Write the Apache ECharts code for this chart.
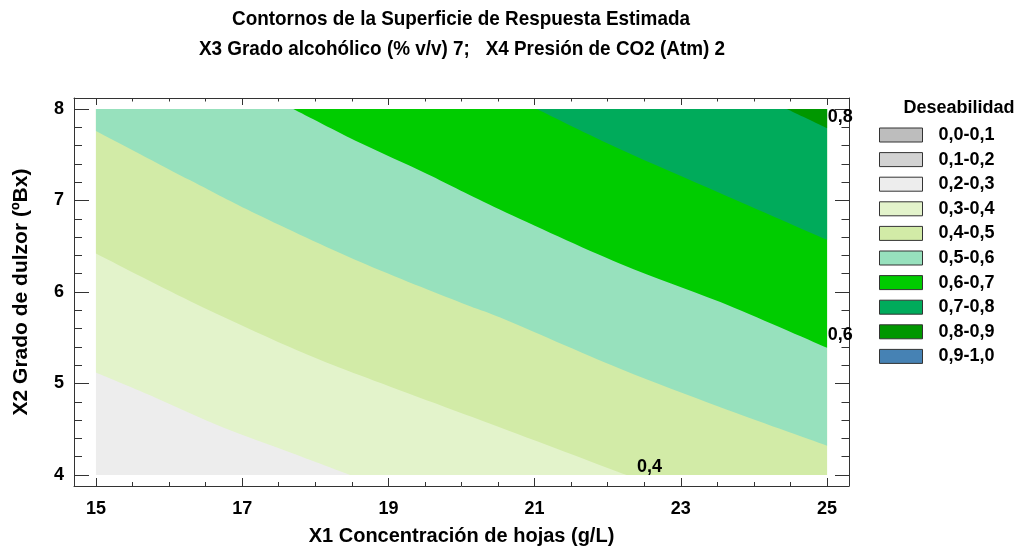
<!DOCTYPE html>
<html>
<head>
<meta charset="utf-8">
<script src="https://cdn.jsdelivr.net/npm/echarts@6/dist/echarts.min.js"></script>
<style>
  html, body { margin: 0; padding: 0; background: #fff; }
  #chart { width: 1025px; height: 551px; }
</style>
</head>
<body>
<div id="chart"></div>
<script>
// dominio experimental (X1 g/L, X2 ºBx)
const x1Range = [15, 25];
const x2Range = [4, 8];

// lineas de contorno, [X1, X2], de arriba-izquierda a abajo-derecha
const contour03 = [[15, 5.12], [15.83, 4.84], [16.74, 4.52], [17.65, 4.25], [18.48, 4.0]];
const contour04 = [[15, 6.42], [16.29, 5.90], [17.65, 5.40], [18.61, 5.09], [20.53, 4.52], [22.26, 4.0]];
const contour05 = [[15, 7.76], [16.29, 7.22], [17.20, 6.85], [18.61, 6.33], [20.0, 5.88], [20.53, 5.72], [22.17, 5.16], [23.54, 4.74], [25, 4.32]];
const contour06 = [[17.70, 8.0], [18.61, 7.63], [19.53, 7.29], [20.53, 6.90], [22.17, 6.31], [23.54, 5.89], [25, 5.39]];
const contour07 = [[21.03, 8.0], [22.17, 7.56], [23.54, 7.08], [25, 6.57]];
const contour08 = [[24.45, 8.0], [25, 7.79]];

// etiquetas de los contornos [X1, X2, texto]
const contourLabels = [[25.01, 7.91, '0,8'], [25.01, 5.53, '0,6'], [22.40, 4.09, '0,4']];

const bandNames = ['0,0-0,1', '0,1-0,2', '0,2-0,3', '0,3-0,4', '0,4-0,5',
  '0,5-0,6', '0,6-0,7', '0,7-0,8', '0,8-0,9', '0,9-1,0'];
// contorno inferior de cada banda ('full' = todo el dominio, null = no aparece)
const bandLower = [null, null, 'full', contour03, contour04, contour05, contour06, contour07, contour08, null];
const bandColors = ['#bdbdbd', '#d2d2d2', '#ededed', '#e3f3cb', '#d2eba7',
  '#97e1bd', '#00cc00', '#00ab5b', '#009700', '#4682b4'];

const xTicks = [15, 17, 19, 21, 23, 25];
const xMinorTicks = [15.5, 16, 16.5, 17.5, 18, 18.5, 19.5, 20, 20.5, 21.5, 22, 22.5, 23.5, 24, 24.5];
const yTicks = [4, 5, 6, 7, 8];
const yMinorTicks = [4.2, 4.4, 4.6, 4.8, 5.2, 5.4, 5.6, 5.8, 6.2, 6.4, 6.6, 6.8, 7.2, 7.4, 7.6, 7.8];

const FONT = '"Liberation Sans", Arial, sans-serif';
const frameColor = '#333';

// curva suave (catmull-rom -> bezier) por los puntos del contorno, en pixeles
function smoothPath(px) {
  let d = 'M' + px[0][0] + ' ' + px[0][1];
  for (let i = 0; i < px.length - 1; i++) {
    const p0 = px[Math.max(i - 1, 0)], p1 = px[i], p2 = px[i + 1], p3 = px[Math.min(i + 2, px.length - 1)];
    const c1 = [p1[0] + (p2[0] - p0[0]) / 6, p1[1] + (p2[1] - p0[1]) / 6];
    const c2 = [p2[0] - (p3[0] - p1[0]) / 6, p2[1] - (p3[1] - p1[1]) / 6];
    d += 'C' + c1[0] + ' ' + c1[1] + ' ' + c2[0] + ' ' + c2[1] + ' ' + p2[0] + ' ' + p2[1];
  }
  return d;
}

// region por encima de un contorno, cerrada por los bordes del dominio
function bandPath(lower, api) {
  const corners = [];
  let line;
  if (lower === 'full') {
    line = [[x1Range[0], x2Range[0]], [x1Range[1], x2Range[0]]];
    corners.push([x1Range[1], x2Range[1]], [x1Range[0], x2Range[1]]);
  } else {
    line = lower;
    const first = lower[0];
    const last = lower[lower.length - 1];
    if (last[1] === x2Range[0]) corners.push([x1Range[1], x2Range[0]]);
    corners.push([x1Range[1], x2Range[1]]);
    if (first[0] === x1Range[0]) corners.push([x1Range[0], x2Range[1]]);
  }
  let d = smoothPath(line.map(p => api.coord(p)));
  corners.forEach(p => {
    const c = api.coord(p);
    d += 'L' + c[0] + ' ' + c[1];
  });
  return d + 'Z';
}

const bandSeries = bandNames.map((name, i) => {
  const lower = bandLower[i];
  return {
    name: name,
    type: 'custom',
    coordinateSystem: 'cartesian2d',
    silent: true,
    z: 1,
    itemStyle: { color: bandColors[i] },
    data: lower ? [[x1Range[0], x2Range[0]]] : [],
    renderItem: (params, api) => ({
      type: 'path',
      shape: { pathData: bandPath(lower, api) },
      style: { fill: bandColors[i], stroke: null },
      z2: i
    })
  };
});

function xAxisDef(position, ticks, len, main) {
  return {
    type: 'value', min: 14.7, max: 25.3, position: position,
    axisLine: { show: main, lineStyle: { color: frameColor, width: 1 } },
    axisTick: { show: true, inside: true, length: len, customValues: ticks,
      lineStyle: { color: frameColor, width: 1 } },
    axisLabel: position === 'bottom' && main
      ? { show: true, customValues: xTicks, margin: 14, color: '#000',
          fontFamily: FONT, fontWeight: 'bold', fontSize: 18 }
      : { show: false },
    splitLine: { show: false },
    name: position === 'bottom' && main ? 'X1 Concentración de hojas (g/L)' : '',
    nameLocation: 'middle', nameGap: 40,
    nameTextStyle: { color: '#000', fontFamily: FONT, fontWeight: 'bold', fontSize: 20 }
  };
}

function yAxisDef(position, ticks, len, main) {
  return {
    type: 'value', min: 3.88, max: 8.12, position: position,
    axisLine: { show: main, lineStyle: { color: frameColor, width: 1 } },
    axisTick: { show: true, inside: true, length: len, customValues: ticks,
      lineStyle: { color: frameColor, width: 1 } },
    axisLabel: position === 'left' && main
      ? { show: true, customValues: yTicks, margin: 10, color: '#000',
          fontFamily: FONT, fontWeight: 'bold', fontSize: 18 }
      : { show: false },
    splitLine: { show: false },
    name: position === 'left' && main ? 'X2 Grado de dulzor (ºBx)' : '',
    nameLocation: 'middle', nameGap: 42,
    nameTextStyle: { color: '#000', fontFamily: FONT, fontWeight: 'bold', fontSize: 21 }
  };
}

const chart = echarts.init(document.getElementById('chart'));
chart.setOption({
  animation: false,
  backgroundColor: '#fff',
  grid: { left: 74, top: 98, width: 775, height: 395 },
  graphic: [
    { type: 'text', x: 461, y: 19.5, scaleX: 0.9, silent: true,
      style: { text: 'Contornos de la Superficie de Respuesta Estimada', fill: '#000',
        font: 'bold 21px ' + FONT, align: 'center', verticalAlign: 'middle' } },
    { type: 'text', x: 462, y: 49, scaleX: 0.9, silent: true,
      style: { text: 'X3 Grado alcohólico (% v/v) 7;   X4 Presión de CO2 (Atm) 2', fill: '#000',
        font: 'bold 21px ' + FONT, align: 'center', verticalAlign: 'middle' } },
    { type: 'text', x: 959, y: 108, silent: true,
      style: { text: 'Deseabilidad', fill: '#000',
        font: 'bold 18px ' + FONT, align: 'center', verticalAlign: 'middle' } }
  ],
  legend: {
    orient: 'vertical', left: 879, top: 126, padding: 0,
    itemWidth: 43, itemHeight: 14, itemGap: 6.6,
    icon: 'rect', selectedMode: false,
    data: bandNames,
    itemStyle: { borderColor: frameColor, borderWidth: 1 },
    textStyle: { color: '#000', fontFamily: FONT, fontWeight: 'bold', fontSize: 18,
      lineHeight: 18, padding: [0, 0, 0, 11] }
  },
  xAxis: [
    xAxisDef('bottom', xTicks, 8, true),
    xAxisDef('bottom', xMinorTicks, 4, false),
    xAxisDef('top', xTicks, 7, true),
    xAxisDef('top', xMinorTicks, 3.5, false)
  ],
  yAxis: [
    yAxisDef('left', yTicks, 15, true),
    yAxisDef('left', yMinorTicks, 8, false),
    yAxisDef('right', yTicks, 14, true),
    yAxisDef('right', yMinorTicks, 7.5, false)
  ],
  series: bandSeries.concat([{
    type: 'scatter',
    silent: true,
    symbolSize: 0,
    z: 5,
    itemStyle: { opacity: 1 },
    data: contourLabels,
    label: {
      show: true, position: [0, 0], align: 'left', verticalAlign: 'middle',
      formatter: p => p.data[2],
      color: '#000', opacity: 1, textBorderWidth: 0,
      fontFamily: FONT, fontWeight: 'bold', fontSize: 18
    }
  }])
});
</script>
</body>
</html>
